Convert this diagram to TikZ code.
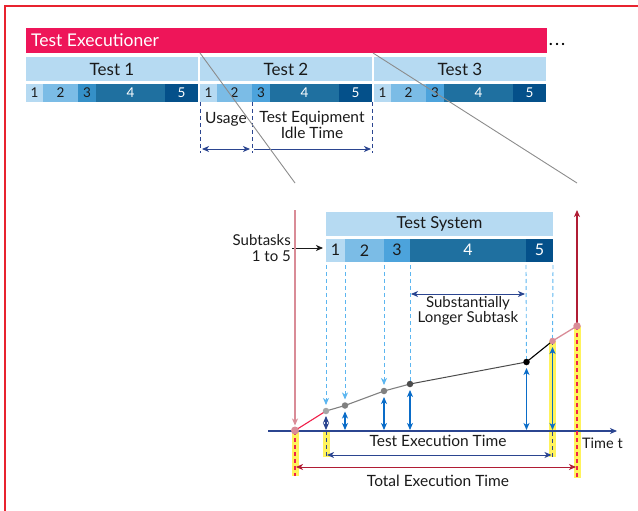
\documentclass[tikz,border=0pt]{standalone}
\usepackage{fontspec}
\setmainfont{Lato}
\usetikzlibrary{arrows.meta}
\definecolor{pinkbar}{HTML}{EE1559}
\definecolor{c1}{HTML}{B6DAF2}
\definecolor{c2}{HTML}{7BBCE6}
\definecolor{c3a}{HTML}{3590C8}
\definecolor{c3b}{HTML}{4CA3DC}
\definecolor{c4}{HTML}{1F70A0}
\definecolor{c5}{HTML}{04508A}
\definecolor{navy}{HTML}{2B4590}
\definecolor{barw}{HTML}{0A6CC8}
\definecolor{ldash}{HTML}{5CB6F0}
\definecolor{rosy}{HTML}{D98C97}
\definecolor{darkred}{HTML}{B01C34}
\definecolor{hlyel}{HTML}{FFF35C}
\definecolor{reddash}{HTML}{F0204A}
\definecolor{frred}{HTML}{E8232F}
\definecolor{txt}{HTML}{1A1A1A}
\begin{document}
\begin{tikzpicture}[x=1pt,y=-1pt,
  >={Stealth[length=7pt,width=6pt,inset=2pt]},
  box/.style={draw=none,inner sep=0pt,outer sep=0pt,anchor=north west},
  hdr/.style={box,fill=c1,minimum height=24pt,text=txt,font=\fontsize{17}{17}\selectfont},
  cell/.style={box,minimum height=18pt,font=\fontsize{13.5}{13.5}\selectfont},
  lcell/.style={box,minimum height=23.5pt,font=\fontsize{16}{16}\selectfont},
  lbl/.style={inner sep=0pt,text=txt,align=center},
  dotn/.style={circle,inner sep=0pt,minimum size=6.5pt,draw=none},
  hl/.style={hlyel,line width=7pt},
  ldl/.style={ldash,dash pattern=on 4pt off 3pt,line width=0.9pt},
]
\useasboundingbox (0,0) rectangle (638,511);
% frame
\draw[frred,line width=1.2pt] (5,511) -- (5,6) -- (638,6);

% top: Test Executioner
\node[box,fill=pinkbar,minimum width=521pt,minimum height=25pt] (te) at (26,28) {};
\node[anchor=west,inner sep=0pt,text=white,font=\fontsize{17.5}{17.5}\selectfont] (tetxt) at (31,40.5) {Test Executioner};
\node[anchor=west,inner sep=0pt,font=\fontsize{15}{15}\selectfont\bfseries] (dots) at (549,44.5) {.\kern2.5pt.\kern2.5pt.};

\foreach \t/\x/\cc in {1/26/c3a,2/200/c3b,3/374/c3b}{
  \node[hdr,minimum width=172pt] (test\t) at (\x,57) {Test \t};
  \node[cell,fill=c1,minimum width=17pt,text=txt] (t\t-1) at (\x,84) {1};
  \node[cell,fill=c2,minimum width=35pt,text=txt] (t\t-2) at (t\t-1.north east) {2};
  \node[cell,fill=\cc,minimum width=18pt,text=txt] (t\t-3) at (t\t-2.north east) {3};
  \node[cell,fill=c4,minimum width=69pt,text=white] (t\t-4) at (t\t-3.north east) {4};
  \node[cell,fill=c5,minimum width=33pt,text=white] (t\t-5) at (t\t-4.north east) {5};
}

% usage / idle
\draw[navy,dash pattern=on 4pt off 3pt,line width=0.9pt] (t2-1.south west) -- ++(0,51);
\draw[navy,dash pattern=on 4pt off 3pt,line width=0.9pt] (t2-3.south west) -- ++(0,51);
\draw[navy,dash pattern=on 4pt off 3pt,line width=0.9pt] (t2-5.south east) -- ++(0,51);
\node[lbl,font=\fontsize{15.5}{15.5}\selectfont] (usage) at (226,119) {Usage};
\node[lbl,font=\fontsize{15.5}{15.5}\selectfont] (idle) at (312,125) {Test Equipment\\Idle Time};
\coordinate (u0) at (202,149);
\coordinate (u1) at (250,149);
\coordinate (i0) at (254,149);
\coordinate (i1) at (371,149);
\draw[navy,<->,line width=1pt] (u0) -- (u1);
\draw[navy,->,line width=1pt] (i0) -- (i1);

% zoom lines
\coordinate (z1a) at (200,53);
\coordinate (z1b) at (295,183);
\coordinate (z2a) at (373,53);
\coordinate (z2b) at (577,183);
\draw[black!45,line width=0.9pt] (z1a) -- (z1b);
\draw[black!45,line width=0.9pt] (z2a) -- (z2b);

% lower: Test System
\node[box,fill=c1,minimum width=227pt,minimum height=24pt,text=txt,font=\fontsize{16.5}{16.5}\selectfont] (ts) at (326,212) {Test System};
\node[lcell,fill=c1,minimum width=19pt,text=txt] (ls1) at (326,238.5) {1};
\node[lcell,fill=c2,minimum width=39pt,text=txt] (ls2) at (ls1.north east) {2};
\node[lcell,fill=c3b,minimum width=26pt,text=txt] (ls3) at (ls2.north east) {3};
\node[lcell,fill=c4,minimum width=116pt,text=white] (ls4) at (ls3.north east) {4};
\node[lcell,fill=c5,minimum width=27pt,text=white] (ls5) at (ls4.north east) {5};

\node[lbl,align=right,anchor=east,font=\fontsize{15}{16}\selectfont] (subt) at (291,248) {Subtasks\\1 to 5};
\draw[txt,->,line width=0.9pt] ([xshift=1pt]subt.east) -- ([xshift=-3pt]subt.east -| ls1.west);

% points
\coordinate (P0) at (295,430.5);
\coordinate (P1) at (326,411);
\coordinate (P2) at (345,405.5);
\coordinate (P3) at (384,391);
\coordinate (P4) at (410,384);
\coordinate (P5) at (526.5,362);
\coordinate (P6) at (552.5,341);
\coordinate (P7) at (577,326);
\coordinate (ax0) at (268,431);
\coordinate (ax1) at (617,431);

% highlights
\draw[hl] (326,431) -- (326,457);
\draw[hl] (295,431) -- (295,476);
\draw[hl] (552.5,341) -- (552.5,457);
\draw[hl] (577,326) -- (577,478);

% axis
\draw[navy,->,line width=1.1pt] (ax0) -- (ax1);
\node[anchor=west,inner sep=0pt,text=txt,font=\fontsize{14.5}{14.5}\selectfont] (timet) at (582,443) {Time t};

% dashed below axis
\draw[navy,dash pattern=on 4pt off 3pt,line width=1pt] (326,431) -- (326,457);
\draw[reddash,dash pattern=on 4pt off 3pt,line width=1.1pt] (295,431) -- (295,476);
\draw[navy,dash pattern=on 4pt off 3pt,line width=1pt] (P6) -- (552.5,457);
\draw[reddash,dash pattern=on 4pt off 3pt,line width=1.1pt] (P7) -- (577,478);

% light-blue dashed from subtasks (page y is flipped: positive yshift = up)
\draw[ldl,->] ([yshift=-3pt]ls1.south west) -- ([yshift=6pt]P1);
\draw[ldl,->] ([yshift=-3pt]ls2.south west) -- ([yshift=6pt]P2);
\draw[ldl,->] ([yshift=-3pt]ls3.south west) -- ([yshift=6pt]P3);
\draw[ldl] ([yshift=-3pt]ls4.south west) -- (P4);
\draw[ldl] ([yshift=-3pt]ls5.south west) -- (P5);
\draw[ldl] ([yshift=-3pt]ls5.south east) -- (P6);

% substantially longer
\coordinate (sl0) at (411,294);
\coordinate (sl1) at (525,294);
\draw[navy,<->,line width=1pt] (sl0) -- (sl1);
\node[lbl,font=\fontsize{15}{15.5}\selectfont] (subl) at (468,311) {Substantially\\Longer Subtask};

% vertical main arrows
\coordinate (pt) at (295,210);
\coordinate (rt) at (577,210);
\draw[rosy,->,line width=1.1pt] (pt) -- ([yshift=5pt]P0);
\draw[darkred,->,line width=1.1pt] (P7) -- (rt);

% blue double arrows
\draw[navy,<->,line width=1.1pt] ([yshift=-5pt]P1) -- ([yshift=1pt]P1 |- ax0);
\draw[barw,<->,line width=1.1pt] ([yshift=-6pt]P2) -- ([yshift=1pt]P2 |- ax0);
\draw[barw,<->,line width=1.1pt] ([yshift=-6pt]P3) -- ([yshift=1pt]P3 |- ax0);
\draw[barw,<->,line width=1.1pt] ([yshift=-6pt]P4) -- ([yshift=1pt]P4 |- ax0);
\draw[barw,<->,line width=1.1pt] ([yshift=-6pt]P5) -- ([yshift=1pt]P5 |- ax0);
\draw[barw,<->,line width=1.1pt] ([yshift=-6pt]P6) -- ([yshift=1pt]P6 |- ax0);

% curve
\draw[reddash,line width=1.1pt] (P0) -- (P1);
\draw[gray,line width=1.1pt] (P1) -- (P2) -- (P3) -- (P4);
\draw[black!70,line width=1pt] (P4) -- (P5);
\draw[black,line width=1.1pt] (P5) -- (P6);
\draw[rosy,line width=1.3pt] (P6) -- (P7);
\node[dotn,fill=rosy,minimum size=8pt] (d0) at (P0) {};
\node[dotn,fill=gray!70] (d1) at (P1) {};
\node[dotn,fill=gray] (d2) at (P2) {};
\node[dotn,fill=gray] (d3) at (P3) {};
\node[dotn,fill=black!70] (d4) at (P4) {};
\node[dotn,fill=black] (d5) at (P5) {};
\node[dotn,fill=rosy] (d6) at (P6) {};
\node[dotn,fill=rosy,minimum size=7.5pt] (d7) at (P7) {};

% execution time arrows
\coordinate (e0) at (327,455);
\coordinate (e1) at (551.5,455);
\coordinate (f0) at (296,467);
\coordinate (f1) at (576,467);
\draw[navy,<->,line width=1pt] (e0) -- (e1);
\draw[darkred,<->,line width=1pt] (f0) -- (f1);
\node[lbl,font=\fontsize{15.5}{15.5}\selectfont] (tet) at (438,441) {Test Execution Time};
\node[lbl,font=\fontsize{15.5}{15.5}\selectfont] (tot) at (438,481) {Total Execution Time};
\end{tikzpicture}
\end{document}
